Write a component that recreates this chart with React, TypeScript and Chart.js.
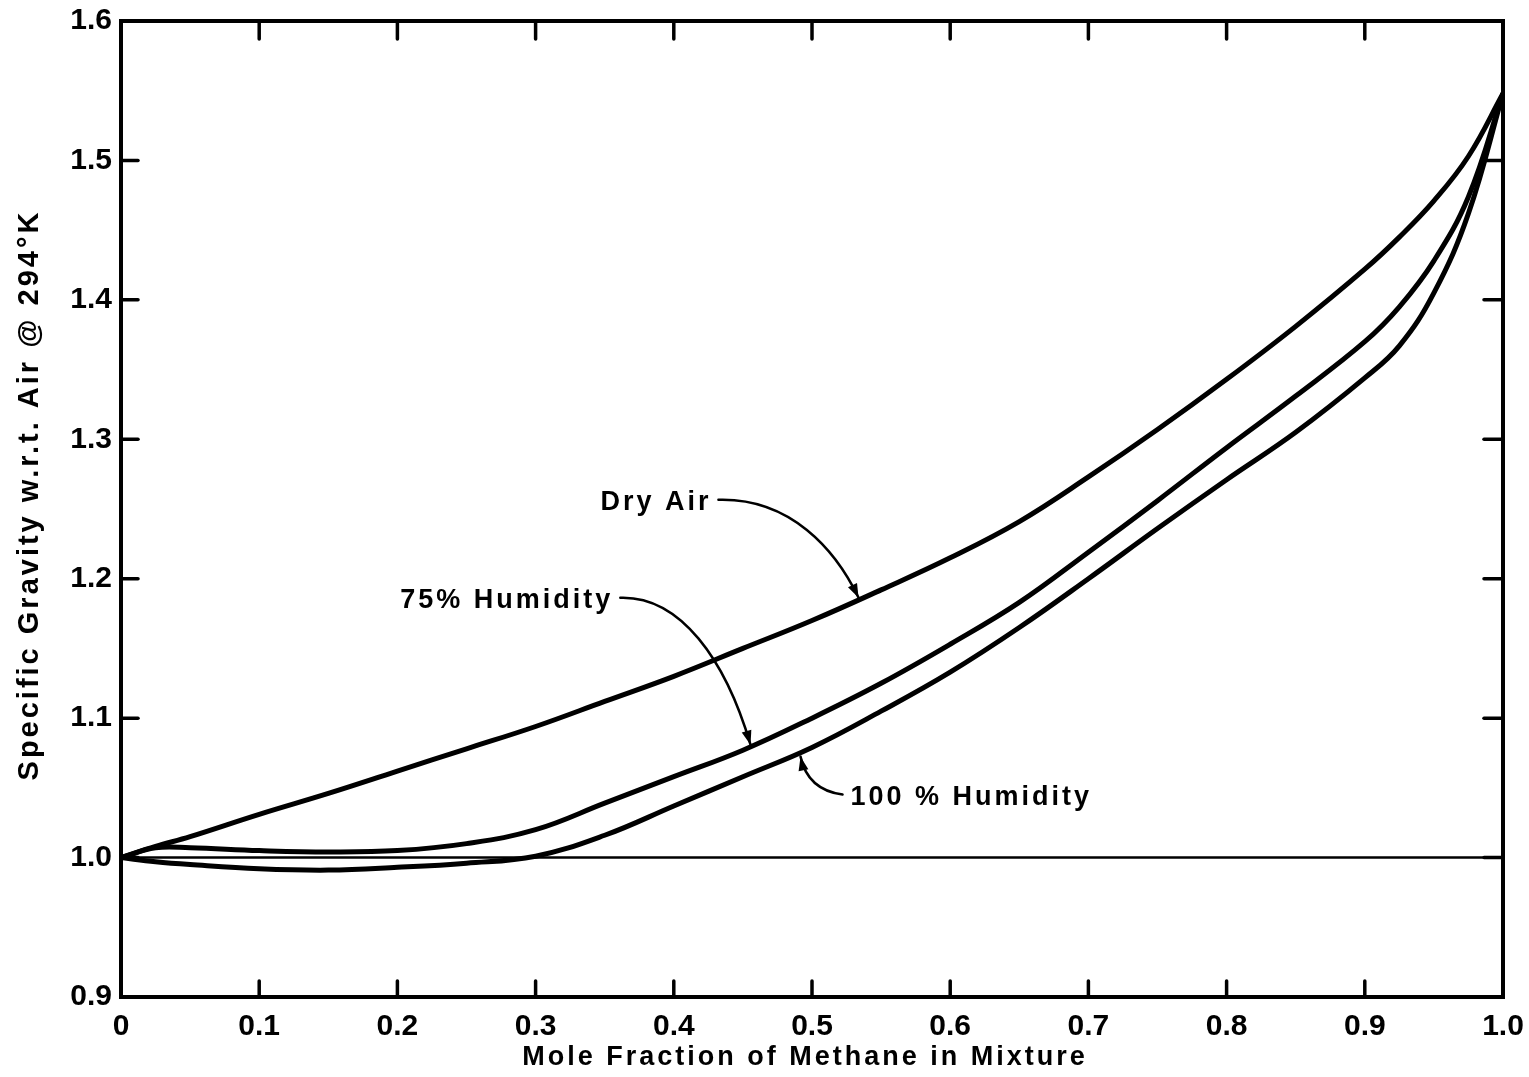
import React, { useEffect, useRef } from 'react';
import { Chart, registerables } from 'chart.js';

Chart.register(...registerables);

// ---- Data ----
const xValues = [0, 0.025, 0.05, 0.1, 0.15, 0.2, 0.25, 0.3, 0.35, 0.4, 0.45, 0.5, 0.55, 0.6, 0.65, 0.7, 0.75, 0.8, 0.85, 0.9, 0.925, 0.95, 0.975, 1.0];
const dryAir = [1.0, 1.008, 1.015, 1.031, 1.046, 1.062, 1.078, 1.094, 1.112, 1.13, 1.15, 1.17, 1.192, 1.215, 1.241, 1.273, 1.307, 1.343, 1.381, 1.422, 1.445, 1.471, 1.503, 1.548];
const humidity75 = [1.0, 1.007, 1.007, 1.005, 1.004, 1.005, 1.01, 1.02, 1.039, 1.058, 1.077, 1.1, 1.125, 1.153, 1.183, 1.219, 1.256, 1.294, 1.331, 1.37, 1.395, 1.428, 1.474, 1.548];
const humidity100 = [1.0, 0.997, 0.995, 0.992, 0.991, 0.993, 0.996, 1.001, 1.016, 1.037, 1.058, 1.079, 1.105, 1.133, 1.165, 1.2, 1.236, 1.271, 1.305, 1.344, 1.367, 1.405, 1.462, 1.548];
const referenceX = [0, 1];
const referenceY = [1, 1];

const xTickValues = [0, 0.1, 0.2, 0.3, 0.4, 0.5, 0.6, 0.7, 0.8, 0.9, 1.0];
const yTickValues = [0.9, 1.0, 1.1, 1.2, 1.3, 1.4, 1.5, 1.6];

const xTitle = 'Mole Fraction of Methane in Mixture';
const yTitle = 'Specific Gravity w.r.t. Air @ 294°K';

// Curve labels (left edge / vertical middle, in data units)
const labelTexts = ['Dry Air', '75% Humidity', '100 % Humidity'];
const labelX = [0.3469, 0.202, 0.5279];
const labelY = [1.2545, 1.1842, 1.043];

// Leader curves: bezier control points in data units [p0, p1, p2, p3(tip)]
const leaderDry = [[0.4323, 1.2566], [0.4844, 1.2581], [0.517, 1.2208], [0.5337, 1.1864]];
const leader75 = [[0.3613, 1.1864], [0.4048, 1.1878], [0.4374, 1.1419], [0.4555, 1.081]];
const leader100 = [[0.5221, 1.0452], [0.5062, 1.0473], [0.4953, 1.0559], [0.4917, 1.0724]];

const FONT = '"Liberation Sans", Arial, sans-serif';
const CANVAS_W = 1529;
const CANVAS_H = 1077;

const toPoints = (xs: number[], ys: number[]) => xs.map((x, i) => ({ x, y: ys[i] }));

const decorPlugin = {
  id: 'decor',
  afterDatasetsDraw(chart: any) {
    const { ctx, chartArea: a, scales } = chart;
    const sx = scales.x;
    const sy = scales.y;
    ctx.save();
    ctx.strokeStyle = '#000';
    ctx.fillStyle = '#000';
    ctx.lineCap = 'round';

    // frame
    ctx.lineWidth = 4;
    ctx.strokeRect(a.left, a.top, a.right - a.left, a.bottom - a.top);

    // inward ticks
    ctx.lineWidth = 3.5;
    const seg = (x1: number, y1: number, x2: number, y2: number) => {
      ctx.beginPath();
      ctx.moveTo(x1, y1);
      ctx.lineTo(x2, y2);
      ctx.stroke();
    };
    xTickValues.forEach((v) => {
      if (v <= 0 || v >= 1) return;
      const px = sx.getPixelForValue(v);
      seg(px, a.bottom, px, a.bottom - 16);
      seg(px, a.top, px, a.top + 18);
    });
    yTickValues.forEach((v) => {
      if (v <= 0.9 || v >= 1.6) return;
      const py = sy.getPixelForValue(v);
      seg(a.left, py, a.left + 17, py);
      seg(a.right, py, a.right - 19, py);
    });

    // leaders with arrowheads
    const leaders = [leaderDry, leader75, leader100];
    ctx.lineWidth = 2.5;
    leaders.forEach((pts) => {
      const p = pts.map(([vx, vy]) => [sx.getPixelForValue(vx), sy.getPixelForValue(vy)]);
      ctx.beginPath();
      ctx.moveTo(p[0][0], p[0][1]);
      ctx.bezierCurveTo(p[1][0], p[1][1], p[2][0], p[2][1], p[3][0], p[3][1]);
      ctx.stroke();
      const ang = Math.atan2(p[3][1] - p[2][1], p[3][0] - p[2][0]);
      const L = 14;
      const W = 5;
      const tx = p[3][0];
      const ty = p[3][1];
      const bx = tx - L * Math.cos(ang);
      const by = ty - L * Math.sin(ang);
      ctx.beginPath();
      ctx.moveTo(tx, ty);
      ctx.lineTo(bx + W * Math.sin(ang), by - W * Math.cos(ang));
      ctx.lineTo(bx - W * Math.sin(ang), by + W * Math.cos(ang));
      ctx.closePath();
      ctx.fill();
    });

    // curve labels
    (ctx as any).letterSpacing = '3px';
    ctx.font = `bold 27px ${FONT}`;
    ctx.textAlign = 'left';
    ctx.textBaseline = 'middle';
    labelTexts.forEach((t, i) => {
      ctx.fillText(t, sx.getPixelForValue(labelX[i]), sy.getPixelForValue(labelY[i]));
    });

    // axis titles
    ctx.font = `bold 27px ${FONT}`;
    ctx.textAlign = 'center';
    ctx.fillText(xTitle, (a.left + a.right) / 2 - 7, a.bottom + 61);

    ctx.font = `bold 29px ${FONT}`;
    ctx.translate(30, (a.top + a.bottom) / 2 - 14);
    ctx.rotate(-Math.PI / 2);
    ctx.fillText(yTitle, 0, 0);
    (ctx as any).letterSpacing = '0px';
    ctx.restore();
  },
};

export default function App() {
  const canvasRef = useRef<HTMLCanvasElement | null>(null);

  useEffect(() => {
    document.body.style.margin = '0';
    if (!canvasRef.current) return;
    const lineStyle = {
      borderColor: '#000',
      borderWidth: 5,
      pointRadius: 0,
      fill: false,
      tension: 0.4,
    };
    const chart = new Chart(canvasRef.current, {
      type: 'line',
      data: {
        datasets: [
          { label: 'Dry Air', data: toPoints(xValues, dryAir), ...lineStyle },
          { label: '75% Humidity', data: toPoints(xValues, humidity75), ...lineStyle },
          { label: '100% Humidity', data: toPoints(xValues, humidity100), ...lineStyle },
          {
            label: 'Reference',
            data: toPoints(referenceX, referenceY),
            borderColor: '#000',
            borderWidth: 2.5,
            pointRadius: 0,
            fill: false,
          },
        ],
      },
      options: {
        animation: false,
        responsive: false,
        devicePixelRatio: 1,
        layout: { padding: { top: 21, right: 26, left: 0, bottom: 0 } },
        plugins: { legend: { display: false }, tooltip: { enabled: false } },
        scales: {
          x: {
            type: 'linear',
            min: 0,
            max: 1,
            grid: { display: false, drawTicks: false, tickLength: 0 },
            border: { display: false },
            afterFit: (s: any) => {
              s.height = 80;
              s.paddingLeft = 0;
              s.paddingRight = 0;
            },
            afterBuildTicks: (s: any) => {
              s.ticks = xTickValues.map((v) => ({ value: v }));
            },
            ticks: {
              autoSkip: false,
              maxRotation: 0,
              padding: 12,
              color: '#000',
              font: { family: FONT, size: 30, weight: 'bold' },
              callback: (v: any) => (Number(v) === 0 ? '0' : Number(v).toFixed(1)),
            },
          },
          y: {
            type: 'linear',
            min: 0.9,
            max: 1.6,
            grid: { display: false, drawTicks: false, tickLength: 0 },
            border: { display: false },
            afterFit: (s: any) => {
              s.width = 121;
              s.paddingTop = 0;
              s.paddingBottom = 0;
            },
            afterBuildTicks: (s: any) => {
              s.ticks = yTickValues.map((v) => ({ value: v }));
            },
            ticks: {
              autoSkip: false,
              padding: 9,
              color: '#000',
              font: { family: FONT, size: 30, weight: 'bold' },
              callback: (v: any) => Number(v).toFixed(1),
            },
          },
        },
      },
      plugins: [decorPlugin],
    });
    return () => chart.destroy();
  }, []);

  return (
    <div style={{ width: CANVAS_W, height: CANVAS_H, position: 'relative' }}>
      <canvas
        ref={canvasRef}
        width={CANVAS_W}
        height={CANVAS_H}
        style={{ display: 'block', width: CANVAS_W, height: CANVAS_H }}
      />
    </div>
  );
}
